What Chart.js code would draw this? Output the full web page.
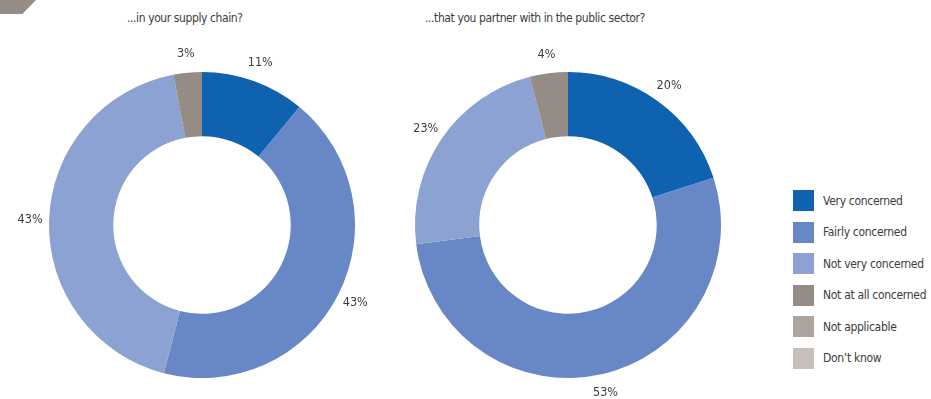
<!DOCTYPE html>
<html>
<head>
<meta charset="utf-8">
<script src="https://cdn.jsdelivr.net/npm/chart.js@4"></script>
<style>
  body { margin: 0; background: #fff; width: 931px; height: 399px; overflow: hidden; position: relative;
         font-family: "DejaVu Sans Condensed", "DejaVu Sans", sans-serif; font-stretch: condensed; color: #3c3c3c; }
  .corner { position: absolute; left: 0; top: 0; width: 36px; height: 14px; background: #958c85;
            clip-path: polygon(0 0, 100% 0, 62% 100%, 0 100%); }
  .title { position: absolute; top: 11px; font-size: 12px; letter-spacing: -0.4px; white-space: nowrap; }
  canvas { position: absolute; top: 0; }
  #legend { position: absolute; left: 793px; top: 190px; white-space: nowrap; }
  .item { height: 21px; margin-bottom: 10.6px; display: flex; align-items: center; font-size: 12px; letter-spacing: -0.3px; }
  .swatch { width: 21px; height: 21px; margin-right: 9px; flex: none; }
</style>
</head>
<body>
<div class="corner"></div>
<div class="title" style="left:127px;">...in your supply chain?</div>
<div class="title" style="left:425px;">...that you partner with in the public sector?</div>
<canvas id="supply" width="404" height="399" style="left:0px"></canvas>
<canvas id="public" width="408" height="399" style="left:364px"></canvas>
<div id="legend"></div>
<script>
const categories = ['Very concerned', 'Fairly concerned', 'Not very concerned', 'Not at all concerned', 'Not applicable', "Don\u2019t know"];
const colors = ['#0f62b0', '#6787c6', '#8ba2d3', '#958c85', '#aca59f', '#c6bfba'];
const supplyChain = [11, 43, 43, 3, 0, 0];
const publicSector = [20, 53, 23, 4, 0, 0];

// percent labels just outside each slice
const outsideLabels = {
  id: 'outsideLabels',
  afterDatasetsDraw(chart) {
    const ctx = chart.ctx;
    const data = chart.data.datasets[0].data;
    ctx.save();
    ctx.font = '12.5px "DejaVu Sans Condensed", "DejaVu Sans", sans-serif';
    ctx.fontStretch = 'condensed';
    ctx.fillStyle = '#3c3c3c';
    ctx.textAlign = 'center';
    ctx.textBaseline = 'middle';
    chart.getDatasetMeta(0).data.forEach((arc, i) => {
      if (!data[i]) return;
      const p = arc.getProps(['x', 'y', 'startAngle', 'endAngle', 'outerRadius'], true);
      const mid = (p.startAngle + p.endAngle) / 2;
      const r = p.outerRadius + 19;
      ctx.fillText(data[i] + '%', p.x + Math.cos(mid) * r, p.y + Math.sin(mid) * r);
    });
    ctx.restore();
  }
};

function makeDoughnut(id, values, side) {
  new Chart(document.getElementById(id), {
    type: 'doughnut',
    data: {
      labels: categories,
      datasets: [{
        data: values,
        backgroundColor: colors,
        borderWidth: 0
      }]
    },
    options: {
      responsive: false,
      animation: false,
      cutout: '58%',
      layout: { padding: { top: 72, bottom: 21, left: side, right: side } },
      plugins: { legend: { display: false }, tooltip: { enabled: false } }
    },
    plugins: [outsideLabels]
  });
}

makeDoughnut('supply', supplyChain, 49);
makeDoughnut('public', publicSector, 51);

const legend = document.getElementById('legend');
categories.forEach((c, i) => {
  const row = document.createElement('div');
  row.className = 'item';
  row.innerHTML = '<div class="swatch" style="background:' + colors[i] + '"></div><span>' + c + '</span>';
  legend.appendChild(row);
});
</script>
</body>
</html>
